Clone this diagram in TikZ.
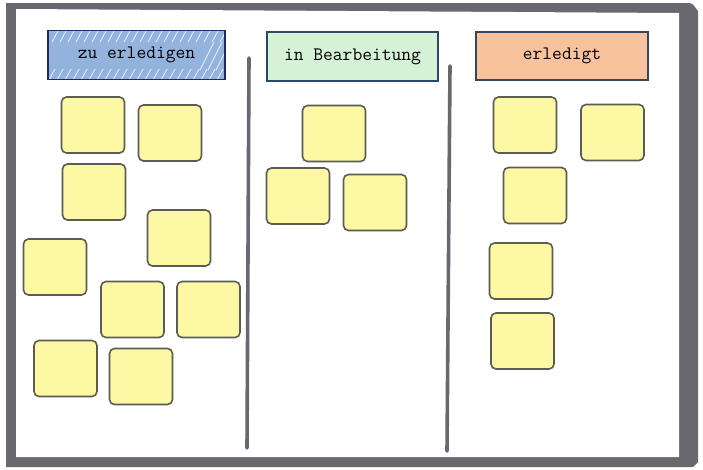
\documentclass[tikz,border=0pt]{standalone}
\usepackage{fontspec}
\setmonofont{Latin Modern Mono}
\definecolor{framegray}{HTML}{68686E}
\definecolor{noteyellow}{HTML}{FCF8A4}
\definecolor{noteedge}{HTML}{5C5C52}
\definecolor{hblue}{HTML}{94B3DC}
\definecolor{hblueedge}{HTML}{1E2A66}
\definecolor{hgreen}{HTML}{D5F1D6}
\definecolor{hgreenedge}{HTML}{2C4A68}
\definecolor{horange}{HTML}{F8C39C}
\definecolor{horangeedge}{HTML}{34465E}
\begin{document}
\begin{tikzpicture}[x=1pt,y=-1pt,
  note/.style={draw=noteedge, fill=noteyellow, line width=1.6pt, rounded corners=5pt,
    minimum width=63pt, minimum height=56pt, inner sep=0pt},
  header/.style={line width=1.8pt, minimum height=49pt, inner sep=0pt,
    font=\fontsize{19}{23}\selectfont\ttfamily, text=black},
  divider/.style={draw=framegray, line width=3.6pt, line cap=round}]
\useasboundingbox (0,0) rectangle (703,469);
\fill[white] (0,0) rectangle (703,469);
% frame
\fill[framegray] (6,3) -- (689,3) to[out=0,in=135] (698,11) -- (698,462) -- (693,467) -- (6,467) -- cycle;
\fill[white] (16,9) -- (679,13) -- (679,457) -- (16,457) -- cycle;
% column dividers
\draw[divider] (249,58) -- (247,448);
\draw[divider] (450,66) -- (447,451);
% headers
\node[header, fill=hblue, minimum width=177pt] (h1bg) at (136.5,55) {};
\begin{scope}
  \clip (h1bg.north west) rectangle (h1bg.south east);
  \foreach \x in {52,60,...,228} {
    \draw[white, opacity=0.75, line width=0.9pt] (\x,42) -- (\x+6,31);
    \draw[white, opacity=0.75, line width=0.9pt] (\x-3,80) -- (\x+3,69);
  }
  \foreach \x in {200,208,216} {
    \draw[white, opacity=0.75, line width=0.9pt] (\x,70) -- (\x+14,42);
  }
\end{scope}
\node[header, draw=hblueedge, minimum width=177pt] (h1) at (h1bg) {zu erledigen};
\node[header, fill=hgreen, draw=hgreenedge, minimum width=171pt] (h2) at (352.5,56.5) {in Bearbeitung};
\node[header, fill=horange, draw=horangeedge, minimum width=172pt, minimum height=48pt] (h3) at (562,56) {erledigt};
% notes: zu erledigen
\node[note] (nA) at (93,125) {};
\node[note] (nB) at (170,133) {};
\node[note] (nC) at (94,192) {};
\node[note] (nD) at (179,238) {};
\node[note] (nE) at (55,267) {};
\node[note] (nF) at (132.5,309.5) {};
\node[note] (nG) at (208.5,309.5) {};
\node[note] (nH) at (65.5,368.5) {};
\node[note] (nI) at (141,376.5) {};
% notes: in Bearbeitung
\node[note] (nJ) at (334,133.5) {};
\node[note] (nK) at (298,196) {};
\node[note] (nL) at (375,202.5) {};
% notes: erledigt
\node[note] (nM) at (525,125) {};
\node[note] (nN) at (612.5,132.5) {};
\node[note] (nO) at (535,195.5) {};
\node[note] (nP) at (521,271) {};
\node[note] (nQ) at (522.5,341) {};
\end{tikzpicture}
\end{document}
